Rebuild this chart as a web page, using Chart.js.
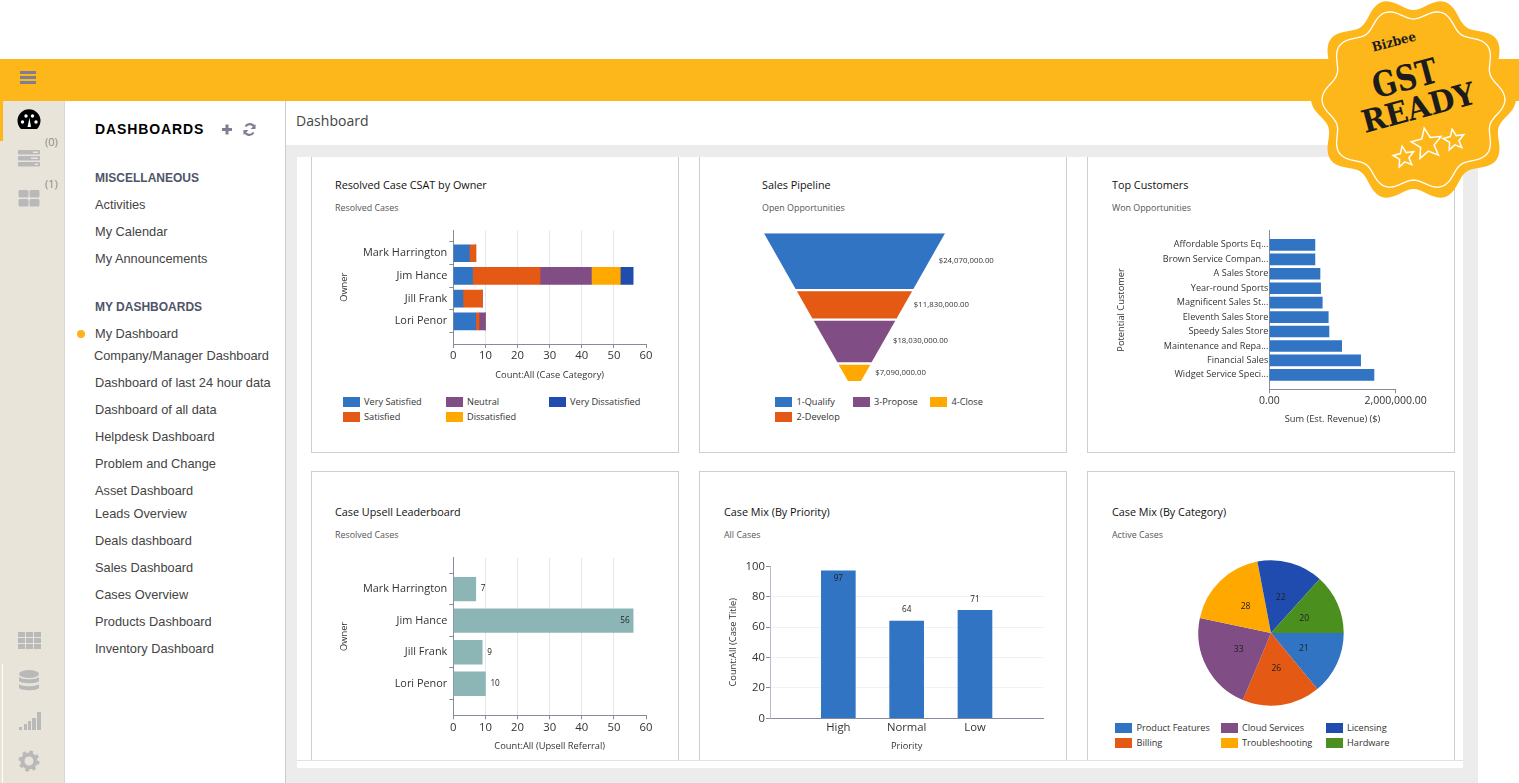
<!DOCTYPE html>
<html lang="en">
<head>
<meta charset="utf-8">
<title>Dashboard</title>
<script src="https://cdn.jsdelivr.net/npm/chart.js@4/dist/chart.umd.min.js"></script>
<style>
  html,body{margin:0;padding:0;background:#fff;width:1519px;height:783px;overflow:hidden;font-family:"Open Sans",sans-serif}
  .a{position:absolute}
  .t{position:absolute;white-space:nowrap;line-height:1;transform:translateY(-50%)}
  canvas{position:absolute;display:block}
  .card{position:absolute;border:1px solid #cfcfcf;background:#fff;box-sizing:border-box}
  .ct{font-size:10.8px;color:#111}
  .cs{font-size:8.9px;color:#555}
  .lg{font-size:9.2px;color:#333}
  .nav{font-family:"Liberation Sans",sans-serif;font-size:12.8px;color:#444}
  .sec{font-family:"Liberation Sans",sans-serif;font-size:12px;font-weight:700;color:#4f5568}
</style>
</head>
<body>
<div class="a" style="left:0;top:59px;width:1519px;height:42px;background:#fdb71a"></div>
<div class="a" style="left:0;top:101px;width:65px;height:682px;background:#e8e4d9;border-right:1px solid #d6d6d6;box-sizing:border-box"></div>
<div class="a" style="left:0;top:101px;width:3px;height:40px;background:#fdb71a"></div>
<div class="a" style="left:2px;top:664px;width:1px;height:119px;background:#fff"></div>
<div class="a" style="left:285px;top:101px;width:1px;height:682px;background:#cccccc"></div>
<div class="a" style="left:286px;top:145px;width:1192px;height:638px;background:#ececec"></div>
<div class="a" style="left:297px;top:157px;width:1166px;height:611px;background:#fff"></div>

<svg class="a" style="left:0;top:0" width="286" height="783" viewBox="0 0 286 783">
  <g fill="#7d8094"><rect x="20" y="71" width="16" height="3"/><rect x="20" y="76" width="16" height="3"/><rect x="20" y="81" width="16" height="3"/></g>
  <path d="M21 129A11.500 11.500 0 1 1 37 129Z" fill="#000"/>
  <g fill="#fff"><circle cx="22.500" cy="122" r="1.700"/><circle cx="26" cy="116" r="1.700"/><circle cx="32.500" cy="116" r="1.700"/><circle cx="36" cy="122" r="1.700"/><path d="M27.500 127l2-9 1.500 9z"/></g>
  <g fill="#b9b9b9"><rect x="18" y="150" width="22" height="4.500" rx="1"/><rect x="18" y="156" width="22" height="4.500" rx="1"/><rect x="18" y="162" width="22" height="4.500" rx="1"/></g>
  <g fill="#e8e4d9"><rect x="33" y="151.500" width="5" height="1.500"/><rect x="31" y="157.500" width="7" height="1.500"/><rect x="35" y="163.500" width="3" height="1.500"/></g>
  <g fill="#b9b9b9"><rect x="18.500" y="190" width="10" height="7.500" rx="1.500"/><rect x="29.500" y="190" width="10" height="7.500" rx="1.500"/><rect x="18.500" y="199" width="10" height="7.500" rx="1.500"/><rect x="29.500" y="199" width="10" height="7.500" rx="1.500"/></g>
  <g fill="#b9b9b9">
    <rect x="18" y="632" width="7" height="5"/><rect x="26" y="632" width="7" height="5"/><rect x="34" y="632" width="7" height="5"/>
    <rect x="18" y="638" width="7" height="5"/><rect x="26" y="638" width="7" height="5"/><rect x="34" y="638" width="7" height="5"/>
    <rect x="18" y="644" width="7" height="5"/><rect x="26" y="644" width="7" height="5"/><rect x="34" y="644" width="7" height="5"/>
    <ellipse cx="29" cy="674" rx="10" ry="4"/><path d="M19 677c2 3 18 3 20 0v4c-2 3-18 3-20 0zM19 684c2 3 18 3 20 0v4c-2 3-18 3-20 0z"/>
    <rect x="19" y="727" width="3" height="3"/><rect x="24" y="724" width="3" height="6"/><rect x="28" y="721" width="3" height="9"/><rect x="32" y="718" width="4" height="12"/><rect x="37" y="712" width="4" height="18"/>
    <circle cx="29" cy="761" r="6.500" fill="none" stroke="#b9b9b9" stroke-width="4"/>
    <circle cx="29" cy="761" r="9" fill="none" stroke="#b9b9b9" stroke-width="3" stroke-dasharray="3.500 3.600"/>
  </g>
  <g fill="#7d8094"><rect x="222" y="128" width="10" height="3"/><rect x="225.500" y="124.500" width="3" height="10"/></g>
  <path d="M254.500 127.500a5 5 0 0 0-9-1M244.500 131.500a5 5 0 0 0 9 1" fill="none" stroke="#7d8094" stroke-width="2.200"/>
  <path d="M255.500 124v5h-5zM243.500 135v-5h5z" fill="#7d8094"/>
  <circle cx="81" cy="334" r="4" fill="#ffb31a"/>
</svg>
<div class="t" style="left:45px;top:141px;font-size:11px;color:#8a8a8a">(0)</div>
<div class="t" style="left:45px;top:183px;font-size:11px;color:#8a8a8a">(1)</div>
<div class="t" style="left:95px;top:129px;font-family:'Liberation Sans',sans-serif;font-size:14px;font-weight:700;color:#000;letter-spacing:.9px">DASHBOARDS</div>
<div class="t sec" style="left:95px;top:177.500px">MISCELLANEOUS</div>
<div class="t sec" style="left:95px;top:306.500px">MY DASHBOARDS</div>
<div class="t" style="left:296px;top:121px;font-size:14px;color:#444;letter-spacing:.05px">Dashboard</div>
<div id="navHost"></div>

<div class="card" style="left:311px;top:150px;width:368px;height:303px"></div>
<div class="card" style="left:699px;top:150px;width:368px;height:303px"></div>
<div class="card" style="left:1087px;top:150px;width:368px;height:303px"></div>
<div class="card" style="left:311px;top:471px;width:368px;height:290px;border-bottom:none"></div>
<div class="card" style="left:699px;top:471px;width:368px;height:290px;border-bottom:none"></div>
<div class="card" style="left:1087px;top:471px;width:368px;height:290px;border-bottom:none"></div>
<div class="a" style="left:297px;top:145px;width:1166px;height:12px;background:#ececec"></div>
<div class="a" style="left:297px;top:760px;width:1166px;height:1px;background:#e2e2e2"></div>

<div id="textHost"></div>
<canvas id="c1" width="321" height="159" style="left:339px;top:222px"></canvas>
<canvas id="c2" width="260" height="158" style="left:754px;top:228px"></canvas>
<canvas id="c3" width="316" height="201" style="left:1116px;top:224px"></canvas>
<canvas id="c4" width="321" height="203" style="left:339px;top:549px"></canvas>
<canvas id="c5" width="330" height="194" style="left:728px;top:558px"></canvas>
<canvas id="c6" width="160" height="158" style="left:1191px;top:554px"></canvas>

<svg id="badge" class="a" style="left:1300px;top:0" width="219" height="200" viewBox="1300 0 219 200"></svg>

<script>
// ---- data ----
const owners = ['Mark Harrington', 'Jim Hance', 'Jill Frank', 'Lori Penor'];
const csatNames = ['Very Satisfied', 'Satisfied', 'Neutral', 'Dissatisfied', 'Very Dissatisfied'];
const csatVerySatisfied = [5, 6, 3, 7];
const csatSatisfied = [2, 21, 6, 1];
const csatNeutral = [0, 16, 0, 2];
const csatDissatisfied = [0, 9, 0, 0];
const csatVeryDissatisfied = [0, 4, 0, 0];

const pipelineStages = ['1-Qualify', '2-Develop', '3-Propose', '4-Close'];
const pipelineValues = [24070000, 11830000, 18030000, 7090000];

const customers = ['Affordable Sports Eq...', 'Brown Service Compan...', 'A Sales Store', 'Year-round Sports', 'Magnificent Sales St...', 'Eleventh Sales Store', 'Speedy Sales Store', 'Maintenance and Repa...', 'Financial Sales', 'Widget Service Speci...'];
const customerRevenue = [722000, 722000, 802000, 812000, 838000, 933000, 944000, 1145000, 1445000, 1656000];

const upsellCounts = [7, 56, 9, 10];

const priorities = ['High', 'Normal', 'Low'];
const priorityCounts = [97, 64, 71];

const categories = ['Product Features', 'Billing', 'Cloud Services', 'Troubleshooting', 'Licensing', 'Hardware'];
const categoryCounts = [21, 26, 33, 28, 22, 20];

const navMisc = ['Activities', 'My Calendar', 'My Announcements'];
const navMine = ['My Dashboard', 'Company/Manager Dashboard', 'Dashboard of last 24 hour data', 'Dashboard of all data', 'Helpdesk Dashboard', 'Problem and Change', 'Asset Dashboard', 'Leads Overview', 'Deals dashboard', 'Sales Dashboard', 'Cases Overview', 'Products Dashboard', 'Inventory Dashboard'];

// ---- styles ----
const BLUE = '#3174c3', ORANGE = '#e45913', PURPLE = '#804d85', AMBER = '#ffa800', NAVY = '#1f4cae', GREEN = '#4b8f1f', TEAL = '#8cb6b5';
const FONT = '"Open Sans", sans-serif';
const AXIS = '#858c9e', GRID = '#e6e7ef', TICK = '#858c9e', INK = '#333';
Chart.defaults.font.family = FONT;
Chart.defaults.animation = false;
Chart.defaults.responsive = false;
Chart.defaults.events = [];
Chart.defaults.plugins.legend.display = false;
Chart.defaults.plugins.tooltip.enabled = false;

// ---- page text ----
const navHost = document.getElementById('navHost'), textHost = document.getElementById('textHost');
function addText(host, cls, x, y, s, extra) {
  const d = document.createElement('div');
  d.className = 't ' + cls; d.style.left = x + 'px'; d.style.top = y + 'px'; d.textContent = s;
  if (extra) d.style.cssText += extra;
  host.appendChild(d);
}
const navMiscY = [205, 232, 259];
const navMineY = [334, 356, 383, 410, 437, 464, 491, 514, 541, 568, 595, 622, 649];
navMisc.forEach((s, i) => addText(navHost, 'nav', 95, navMiscY[i], s));
navMine.forEach((s, i) => addText(navHost, 'nav', i === 1 ? 94 : 95, navMineY[i], s));

function heading(x, y, title, sub) {
  addText(textHost, 'ct', x, y, title);
  addText(textHost, 'cs', x, y + 23, sub);
}
heading(335, 185, 'Resolved Case CSAT by Owner', 'Resolved Cases');
heading(762, 185, 'Sales Pipeline', 'Open Opportunities');
heading(1112, 185, 'Top Customers', 'Won Opportunities');
heading(335, 511.5, 'Case Upsell Leaderboard', 'Resolved Cases');
heading(724, 511.5, 'Case Mix (By Priority)', 'All Cases');
heading(1112, 511.5, 'Case Mix (By Category)', 'Active Cases');

function legend(xs, y0, names, colors) {
  const perCol = Math.ceil(names.length / xs.length);
  names.forEach((s, i) => {
    const col = Math.floor(i / perCol), row = i % perCol;
    const top = y0 + row * 14.5;
    const sw = document.createElement('div');
    sw.className = 'a';
    sw.style.cssText = `left:${xs[col]}px;top:${top}px;width:17px;height:10px;background:${colors[i]}`;
    textHost.appendChild(sw);
    addText(textHost, 'lg', xs[col] + 21.5, top + 5, s);
  });
}
legend([342.5, 445.5, 548.5], 397, csatNames, [BLUE, ORANGE, PURPLE, AMBER, NAVY]);
// the Sales Pipeline legend fills three columns as 2 + 1 + 1
[['1-Qualify', BLUE, 775, 397], ['2-Develop', ORANGE, 775, 411.5], ['3-Propose', PURPLE, 852.5, 397], ['4-Close', AMBER, 930, 397]].forEach(([s, c, x, y], i) => {
  const sw = document.createElement('div');
  sw.className = 'a';
  sw.style.cssText = `left:${x}px;top:${y}px;width:17px;height:10px;background:${c}`;
  textHost.appendChild(sw);
  addText(textHost, 'lg', x + 21.5, y + 5, pipelineStages[i]);
});
legend([1115, 1220.5, 1325.5], 723.3, categories, [BLUE, ORANGE, PURPLE, AMBER, NAVY, GREEN]);

// ---- shared scale helpers ----
const titleOpt = (text) => ({ display: true, text, color: INK, font: { size: 9.3 }, padding: 0 });
const noLast = (max, color) => (c) => (c.tick && c.tick.value === max ? 'transparent' : color);
function fixedBox(size, horizontal) {
  return (s) => { if (horizontal) s.height = size; else s.width = size; };
}
const blankEnds = (list) => ['', ...list, ''];
const nullEnds = (list) => [null, ...list, null];

// ---- chart 1: stacked bars ----
const ownerScale = (width, title) => ({
  type: 'category', labels: blankEnds(owners), offset: false,
  afterFit: fixedBox(width, false),
  border: { color: AXIS },
  grid: { drawOnChartArea: false, tickLength: 4, tickColor: TICK },
  ticks: { autoSkip: false, maxRotation: 0, color: INK, font: { size: 10.9 }, padding: 2 },
  title: titleOpt(title)
});
const countScale = (height, title, pad) => ({
  type: 'linear', min: 0, max: 60,
  afterFit: fixedBox(height, true),
  border: { color: AXIS },
  grid: { color: noLast(60, GRID), tickColor: TICK, tickLength: 4 },
  ticks: { stepSize: 10, maxRotation: 0, color: INK, font: { size: 11.3 }, padding: pad },
  title: titleOpt(title)
});
const csatSeries = [csatVerySatisfied, csatSatisfied, csatNeutral, csatDissatisfied, csatVeryDissatisfied];
const csatColors = [BLUE, ORANGE, PURPLE, AMBER, NAVY];
new Chart(document.getElementById('c1'), {
  type: 'bar',
  data: {
    labels: blankEnds(owners),
    datasets: csatSeries.map((d, i) => ({ label: csatNames[i], data: nullEnds(d), backgroundColor: csatColors[i], barThickness: 17, stack: 's' }))
  },
  options: {
    indexAxis: 'y',
    layout: { padding: { top: 8, right: 14, bottom: 0, left: 0 } },
    scales: { x: { ...countScale(37, 'Count:All (Case Category)', 1), stacked: true }, y: { ...ownerScale(114.3, 'Owner'), stacked: true } }
  }
});

// ---- chart 2: funnel, one closed shape per stage, heights from the values ----
const funnelGap = 980000;   // blank space between stages, in the value units of the scale
const funnelNeck = 0.072;   // width left at the tip, as a share of the mouth
const funnelTotal = pipelineValues.reduce((a, b) => a + b, 0) + funnelGap * (pipelineValues.length - 1);
const funnelHalf = (y) => 1 - (1 - funnelNeck) * y / funnelTotal;
let funnelY = 0;
const funnelShapes = pipelineValues.map((v) => {
  const y0 = funnelY, y1 = funnelY + v;
  funnelY = y1 + funnelGap;
  return [{ x: -funnelHalf(y0), y: y0 }, { x: funnelHalf(y0), y: y0 }, { x: funnelHalf(y1), y: y1 }, { x: -funnelHalf(y1), y: y1 }];
});
const money = (v) => '$' + v.toLocaleString('en-US', { minimumFractionDigits: 2, maximumFractionDigits: 2 });
const funnelLabels = {
  id: 'funnelLabels',
  afterDatasetsDraw(chart) {
    const ctx = chart.ctx;
    ctx.save();
    ctx.font = '7.8px ' + FONT; ctx.fillStyle = INK; ctx.textAlign = 'left'; ctx.textBaseline = 'middle';
    chart.data.datasets.forEach((d, i) => {
      const pts = chart.getDatasetMeta(i).data;
      ctx.fillText(money(pipelineValues[i]), (pts[1].x + pts[2].x) / 2 + 9.5, (pts[1].y + pts[2].y) / 2 - 0.5);
    });
    ctx.restore();
  }
};
new Chart(document.getElementById('c2'), {
  type: 'scatter',
  data: {
    datasets: funnelShapes.map((shape, i) => ({
      label: pipelineStages[i], data: shape, showLine: true, fill: 'shape', clip: false,
      backgroundColor: [BLUE, ORANGE, PURPLE, AMBER][i], borderColor: 'transparent', borderWidth: 0, pointRadius: 0
    }))
  },
  options: {
    layout: { padding: { top: 5.3, right: 69, bottom: 5, left: 10 } },
    scales: {
      x: { type: 'linear', min: -1, max: 1, display: false },
      y: { type: 'linear', min: 0, max: funnelTotal, reverse: true, display: false }
    }
  },
  plugins: [funnelLabels]
});

// ---- chart 3: top customers ----
new Chart(document.getElementById('c3'), {
  type: 'bar',
  data: { labels: blankEnds(customers), datasets: [{ label: 'Sum (Est. Revenue) ($)', data: nullEnds(customerRevenue), backgroundColor: BLUE, barThickness: 11 }] },
  options: {
    indexAxis: 'y',
    layout: { padding: { top: 6, right: 36.3, bottom: 0, left: 0 } },
    scales: {
      x: {
        type: 'linear', min: 0, max: 2000000, afterFit: fixedBox(35.7, true),
        border: { color: AXIS }, grid: { drawOnChartArea: false, tickColor: TICK, tickLength: 4 },
        ticks: { stepSize: 2000000, maxRotation: 0, color: INK, font: { size: 10.5 }, padding: 1, callback: (v) => v.toLocaleString('en-US', { minimumFractionDigits: 2 }) },
        title: titleOpt('Sum (Est. Revenue) ($)')
      },
      y: {
        type: 'category', labels: blankEnds(customers), offset: false, afterFit: fixedBox(153.3, false),
        border: { color: AXIS }, grid: { drawOnChartArea: false, drawTicks: false },
        ticks: { autoSkip: false, maxRotation: 0, color: INK, font: { size: 9.1 }, padding: 1 },
        title: titleOpt('Potential Customer')
      }
    }
  }
});

// ---- value labels next to bars ----
const barValueLabels = (values, horizontal, insideAt) => ({
  id: 'barValueLabels',
  afterDatasetsDraw(chart) {
    const ctx = chart.ctx, els = chart.getDatasetMeta(0).data;
    ctx.save();
    ctx.font = '8.2px ' + FONT; ctx.fillStyle = '#222'; ctx.textBaseline = 'middle';
    values.forEach((v, i) => {
      const el = els[i + 1], inside = v >= insideAt;
      if (horizontal) {
        ctx.textAlign = inside ? 'right' : 'left';
        ctx.fillText(String(v), el.x + (inside ? -3.5 : 5), el.y);
      } else {
        ctx.textAlign = 'center';
        ctx.fillText(String(v), el.x, el.y + (inside ? 7.5 : -11));
      }
    });
    ctx.restore();
  }
});

// ---- chart 4: upsell ----
new Chart(document.getElementById('c4'), {
  type: 'bar',
  data: { labels: blankEnds(owners), datasets: [{ label: 'Count:All (Upsell Referral)', data: nullEnds(upsellCounts), backgroundColor: TEAL, barThickness: 23.7 }] },
  options: {
    indexAxis: 'y',
    layout: { padding: { top: 8.3, right: 14, bottom: 0, left: 0 } },
    scales: { x: countScale(36.7, 'Count:All (Upsell Referral)', 2), y: ownerScale(114.3, 'Owner') }
  },
  plugins: [barValueLabels(upsellCounts, true, 50)]
});

// ---- chart 5: priority ----
new Chart(document.getElementById('c5'), {
  type: 'bar',
  data: { labels: blankEnds(priorities), datasets: [{ label: 'Count:All (Case Title)', data: nullEnds(priorityCounts), backgroundColor: BLUE, barThickness: 34 }] },
  options: {
    layout: { padding: { top: 8.3, right: 14.7, bottom: 0, left: 0 } },
    scales: {
      x: {
        type: 'category', labels: blankEnds(priorities), offset: false, afterFit: fixedBox(33.7, true),
        border: { color: AXIS }, grid: { drawOnChartArea: false, drawTicks: false },
        ticks: { autoSkip: false, maxRotation: 0, color: INK, font: { size: 11.3 }, padding: 3 },
        title: titleOpt('Priority')
      },
      y: {
        type: 'linear', min: 0, max: 100, afterFit: fixedBox(42, false),
        border: { color: '#b9bdc9' }, grid: { color: noLast(100, '#eef1f6'), tickColor: TICK, tickLength: 4 },
        ticks: { stepSize: 20, color: INK, font: { size: 11.3 }, padding: 1 },
        title: titleOpt('Count:All (Case Title)')
      }
    }
  },
  plugins: [barValueLabels(priorityCounts, false, 90)]
});

// ---- chart 6: pie ----
const pieLabels = {
  id: 'pieLabels',
  afterDatasetsDraw(chart) {
    const ctx = chart.ctx;
    ctx.save();
    ctx.font = '8.6px ' + FONT; ctx.fillStyle = '#222'; ctx.textAlign = 'center'; ctx.textBaseline = 'middle';
    chart.getDatasetMeta(0).data.forEach((arc, i) => {
      const p = arc.tooltipPosition();
      ctx.fillText(String(categoryCounts[i]), p.x, p.y);
    });
    ctx.restore();
  }
};
new Chart(document.getElementById('c6'), {
  type: 'pie',
  data: { labels: categories, datasets: [{ data: categoryCounts, backgroundColor: [BLUE, ORANGE, PURPLE, AMBER, NAVY, GREEN], borderWidth: 0 }] },
  options: { rotation: 90, radius: 72.7 },
  plugins: [pieLabels]
});

// ---- badge ----
(function () {
  const svg = document.getElementById('badge'), cx = 1413.5, cy = 99.5;
  const wave = (R, a) => {
    let d = '';
    for (let k = 0; k < 360; k += 2) {
      const t = k * Math.PI / 180, r = R + a * Math.cos(10 * (t - 18 * Math.PI / 180));
      d += (k ? 'L' : 'M') + (cx + r * Math.sin(t)).toFixed(1) + ' ' + (cy - r * Math.cos(t)).toFixed(1);
    }
    return d + 'Z';
  };
  const star = (x, y, R) => {
    let d = '';
    for (let i = 0; i < 10; i++) {
      const t = (i * 36 - 10) * Math.PI / 180, r = i % 2 ? R * 0.45 : R;
      d += (i ? 'L' : 'M') + (x + r * Math.sin(t)).toFixed(1) + ' ' + (y - r * Math.cos(t)).toFixed(1);
    }
    return `<path d="${d}Z" fill="none" stroke="#fff" stroke-width="1.5"/>`;
  };
  const serif = 'font-family="DejaVu Serif" font-weight="700" fill="#1c1c1c" text-anchor="middle"';
  svg.innerHTML =
    `<path d="${wave(96, 6.5)}" fill="#fdb71a"/>` +
    `<path d="${wave(86, 5.5)}" fill="none" stroke="#fff" stroke-width="1.3"/>` +
    `<text transform="translate(1395,46) rotate(-15)" ${serif} font-size="13" textLength="45" lengthAdjust="spacingAndGlyphs">Bizbee</text>` +
    `<text transform="translate(1408,90) rotate(-15)" ${serif} font-size="35" textLength="66" lengthAdjust="spacingAndGlyphs">GST</text>` +
    `<text transform="translate(1421,118) rotate(-15)" ${serif} font-size="31" textLength="116" lengthAdjust="spacingAndGlyphs">READY</text>` +
    star(1404, 157, 11) + star(1427, 144, 16) + star(1454, 140, 11);
})();
</script>
</body>
</html>
